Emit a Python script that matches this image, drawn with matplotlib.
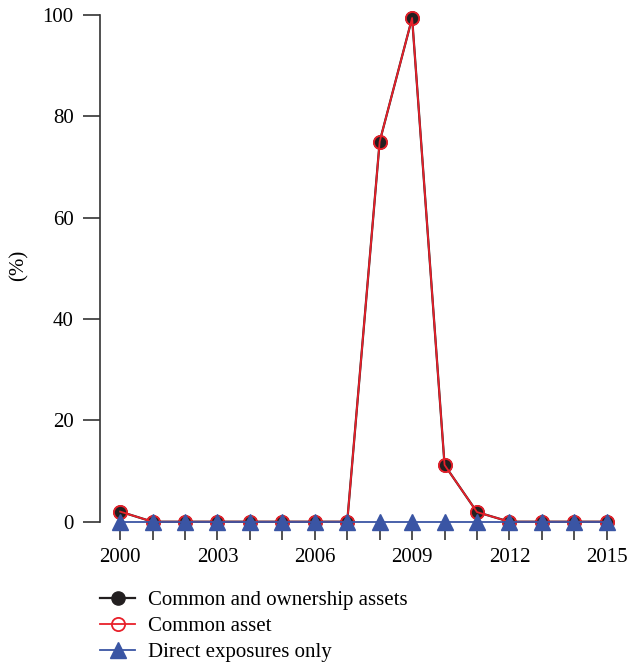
import matplotlib
matplotlib.use("Agg")
import matplotlib.pyplot as plt

plt.rcParams['font.family'] = ['Liberation Serif', 'DejaVu Serif']

years = list(range(2000, 2016))
common_ownership = [2.0, 0, 0, 0, 0, 0, 0, 0, 75.0, 99.4, 11.2, 1.9, 0, 0, 0, 0]
common_asset = [2.0, 0, 0, 0, 0, 0, 0, 0, 75.0, 99.4, 11.2, 1.9, 0, 0, 0, 0]
direct_only = [0] * 16
xtick_labels = ['2000', '2003', '2006', '2009', '2012', '2015']

fig = plt.figure(figsize=(6.41, 6.67), dpi=100)
ax = fig.add_axes([0.156, 0.195, 0.821, 0.7826])

ax.plot(years, common_ownership, color='#231f20', lw=1.6, marker='o', ms=9.5,
        mfc='#231f20', mec='#231f20', clip_on=False, zorder=3,
        label='Common and ownership assets')
ax.plot(years, common_asset, color='#e8202a', lw=1.3, marker='o', ms=9.5,
        mfc='none', mec='#e8202a', mew=1.3, clip_on=False, zorder=4,
        label='Common asset')
ax.plot(years, direct_only, color='#3a55a4', lw=1.3, marker='^', ms=11,
        mfc='#3a55a4', mec='#3a55a4', clip_on=False, zorder=5,
        label='Direct exposures only')

ax.set_xlim(1999.38, 2015.6)
ax.set_ylim(-3, 100)

for s in ['top', 'right']:
    ax.spines[s].set_visible(False)
ax.spines['bottom'].set_position(('data', 0))
ax.spines['bottom'].set_visible(False)
ax.spines['left'].set_bounds(0, 100)
ax.spines['left'].set_color('#333333')
ax.spines['left'].set_linewidth(1.2)

ax.set_xticks(years)
ax.set_xticklabels([str(y) if str(y) in xtick_labels else '' for y in years])
ax.set_yticks([0, 20, 40, 60, 80, 100])
ax.tick_params(axis='x', direction='out', length=13, width=1.2, pad=6,
               labelsize=15, color='#333333')
ax.tick_params(axis='y', direction='out', length=12, width=1.2, pad=7,
               labelsize=15, color='#333333')
ax.set_ylabel('(%)', fontsize=15)
ax.yaxis.set_label_coords(-0.135, 0.52)

ax.legend(loc='upper left', bbox_to_anchor=(0.0, -0.103), frameon=False,
          fontsize=15, handlelength=1.7, handletextpad=0.6, labelspacing=0.3,
          borderpad=0, borderaxespad=0)

fig.savefig('out.png', dpi=100)
